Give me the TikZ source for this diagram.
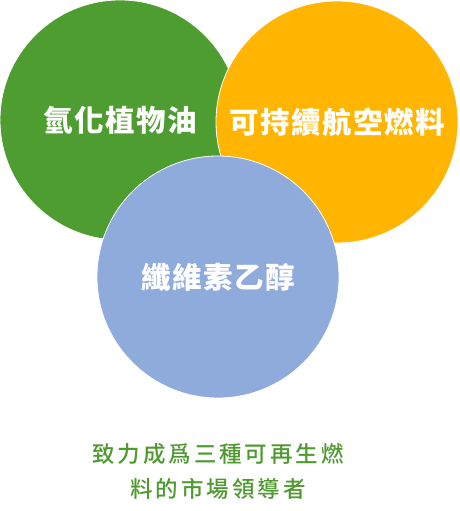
\documentclass[tikz,border=0pt]{standalone}
\usepackage{fontspec}
\setmainfont{Noto Sans CJK TC}
\newfontfamily\medfont{Noto Sans CJK TC Medium}
\usetikzlibrary{positioning}
\definecolor{hvogreen}{HTML}{4E9D30}
\definecolor{safgold}{HTML}{FFB501}
\definecolor{ethblue}{HTML}{8FABDC}
\definecolor{taggreen}{HTML}{4E9A2F}

\begin{document}
\begin{tikzpicture}[x=1pt,y=1pt,
        fuel/.style={circle, draw=white, line width=0.8pt, inner sep=0pt, text=white,
                     font=\fontsize{29.5}{32}\selectfont\bfseries\addfontfeature{LetterSpace=5}},
        tagline/.style={align=center, text=taggreen,
                     font=\fontsize{22.5}{35}\selectfont\medfont\addfontfeature{LetterSpace=13}}]
        \useasboundingbox (0,0) rectangle (459,511);
        \node[fuel, fill=hvogreen, minimum size=240] (hvo) at (120,391) {氫化植物油};
        \node[fuel, fill=safgold, minimum size=242] (saf) at (337,389) {可持續航空燃料};
        \node[fuel, fill=ethblue, minimum size=242] (eth) at (218,234) {纖維素乙醇};
        \node[tagline, below=42 of eth] (lead) {致力成爲三種可再生燃\\料的市場領導者};

    \end{tikzpicture}
\end{document}
